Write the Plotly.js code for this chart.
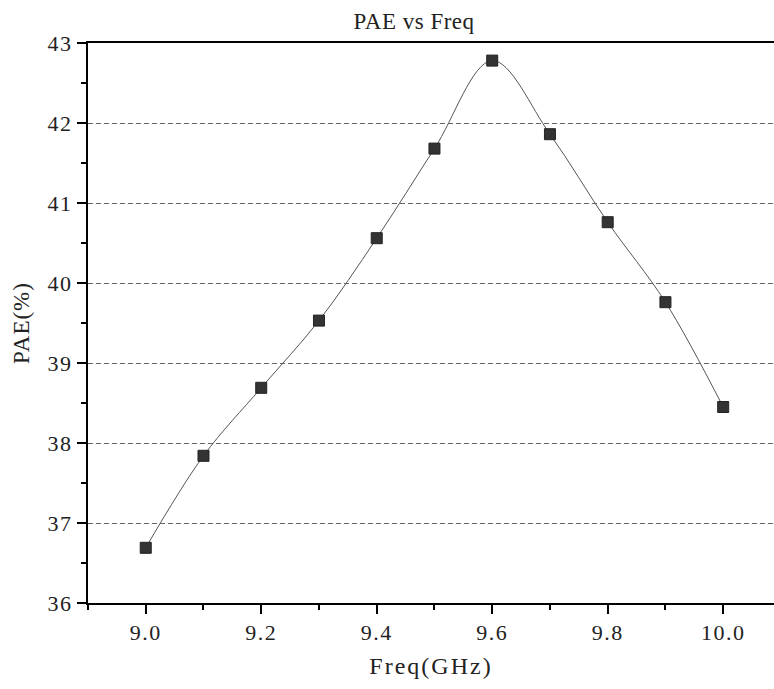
<!DOCTYPE html>
<html>
<head>
<meta charset="utf-8">
<script src="https://cdn.plot.ly/plotly-3.0.1.min.js"></script>
<style>
html,body{margin:0;padding:0;background:#fff;}
#chart{width:774px;height:689px;}
#chart .xtick text, #chart .ytick text { letter-spacing: 1.5px; }
#chart .xtitle { letter-spacing: 2px; }
#chart .ytitle { letter-spacing: 1px; }
#chart .gtitle { letter-spacing: 0.5px; }
</style>
</head>
<body>
<div id="chart"></div>
<script>
const freq = [9.0, 9.1, 9.2, 9.3, 9.4, 9.5, 9.6, 9.7, 9.8, 9.9, 10.0];
const pae = [36.69, 37.84, 38.69, 39.53, 40.56, 41.68, 42.78, 41.86, 40.76, 39.76, 38.45];
const xTicks = [9.0, 9.2, 9.4, 9.6, 9.8, 10.0];
const xTickText = ["9.0", "9.2", "9.4", "9.6", "9.8", "10.0"];
const yTicks = [36, 37, 38, 39, 40, 41, 42, 43];

const FONT = "Liberation Serif, Times New Roman, serif";

const trace = {
  x: freq, y: pae, type: 'scatter', mode: 'lines+markers',
  line: {shape: 'spline', smoothing: 1.0, color: '#555555', width: 1},
  marker: {symbol: 'square', size: 11, color: '#333333', line: {color: '#222222', width: 1}},
  showlegend: false, hoverinfo: 'x+y'
};

const layout = {
  width: 774, height: 689,
  margin: {l: 88, r: 0, t: 43, b: 86},
  paper_bgcolor: '#ffffff', plot_bgcolor: '#ffffff',
  font: {family: FONT, color: '#222222', size: 22},
  title: {text: 'PAE vs Freq', x: 0.535, xanchor: 'center', y: 0.97, yanchor: 'middle',
          font: {family: FONT, size: 23, color: '#222222'}},
  xaxis: {
    range: [8.9, 10.088], tickvals: xTicks, ticktext: xTickText,
    ticks: 'outside', ticklen: 9, tickwidth: 2, tickcolor: '#000',
    minor: {dtick: 0.1, tick0: 9.0, ticks: 'outside', ticklen: 5, tickwidth: 2, tickcolor: '#000', showgrid: false},
    showline: true, linecolor: '#000', linewidth: 2, mirror: true,
    showgrid: false, zeroline: false,
    tickfont: {family: FONT, size: 22, color: '#222'},
    title: {text: 'Freq(GHz)', standoff: 13, font: {family: FONT, size: 24, color: '#222'}}
  },
  yaxis: {
    range: [36, 43], tickvals: yTicks,
    ticks: 'outside', ticklen: 9, tickwidth: 2, tickcolor: '#000',
    minor: {dtick: 0.5, tick0: 36, ticks: 'outside', ticklen: 5, tickwidth: 2, tickcolor: '#000', showgrid: false},
    showline: true, linecolor: '#000', linewidth: 2, mirror: false,
    showgrid: true, gridcolor: '#666666', gridwidth: 1, griddash: '5px,3px',
    zeroline: false,
    tickfont: {family: FONT, size: 22, color: '#222'},
    title: {text: 'PAE(%)', standoff: 15, font: {family: FONT, size: 23, color: '#222'}}
  }
};

Plotly.newPlot('chart', [trace], layout, {displayModeBar: false, staticPlot: true});
</script>
</body>
</html>
